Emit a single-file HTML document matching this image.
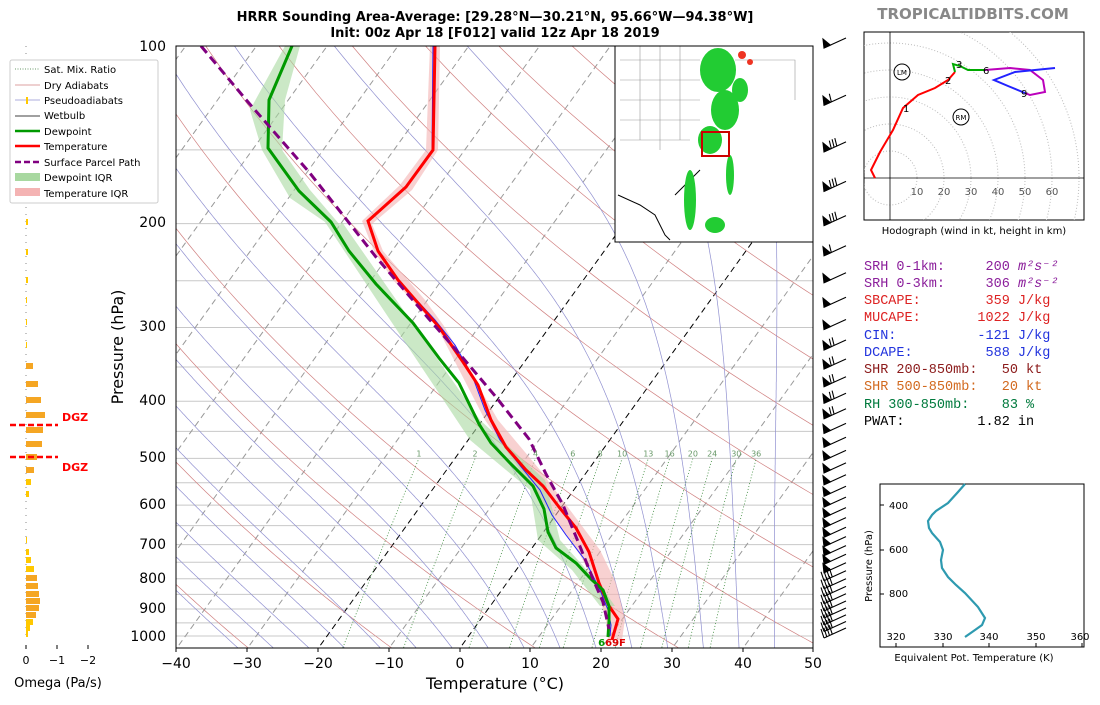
<!DOCTYPE html>
<html><head><meta charset="utf-8"><style>
body{margin:0;background:#fff;width:1100px;height:700px;overflow:hidden}
.mono text{font-family:"Liberation Mono","DejaVu Sans Mono",monospace}
</style></head><body>
<svg id="s" width="1100" height="700" viewBox="0 0 1100 700" xmlns="http://www.w3.org/2000/svg" font-family="DejaVu Sans, Liberation Sans, sans-serif">
<defs><clipPath id="c"><rect x="176" y="46" width="637" height="602"/></clipPath>
<clipPath id="ch"><rect x="864" y="32" width="220" height="188"/></clipPath></defs>
<g id="grid" clip-path="url(#c)"></g>
<g id="prof" clip-path="url(#c)">
<polygon fill="#f4b3b3" opacity="0.6" points="430,46 440,46 438,150 412,190 372,224 383,251 425,300 444,326 498,420 540,470 600,550 616,583 625,619 622,640 608,640 606,620 596,585 580,555 520,470 485,420 437,327 393,280 374,251 362,221 400,185 426,150"/>
<polygon fill="#a8d8a0" opacity="0.6" points="285,46 300,46 285,100 282,150 310,190 340,225 342,222 480,420 545,480 560,540 600,585 615,606 600,606 572,570 538,540 530,490 470,440 325,222 290,198 262,150 250,110"/>
<polyline fill="none" stroke="#2020ff" stroke-width="1" points="433,46 432,150 405,188 368,222 378,251 398,280 435,320 455,345 472,375 485,410 500,440 522,468 540,490 552,515 566,535 585,560 600,590 608,610 611,625 610,636"/>
<polyline fill="none" stroke="#ff0000" stroke-width="3" points="435,46 433,150 406,187 368,221 378,251 398,280 439,327 463,362 478,385 491,420 506,447 526,470 543,486 559,507 576,528 589,552 599,583 609,606 618,619 614,633 612,640"/>
<polyline fill="none" stroke="#009900" stroke-width="3" points="292,46 269,100 268,148 299,191 331,222 349,251 376,284 413,323 439,358 459,383 479,424 491,443 509,462 533,486 544,509 548,532 556,548 576,563 591,579 603,590 609,606 609,621 608,637"/>
<polyline fill="none" stroke="#800080" stroke-width="3" stroke-dasharray="9,5" points="201,46 248,102 309,172 376,257 429,319 463,358 496,397 529,439 546,474 563,505 579,544 593,579 603,602 609,629"/>
</g>
<rect x="615" y="46" width="198" height="196" fill="#fff" stroke="#000"/>
<g stroke="#999" stroke-width="0.6" fill="none">
<path d="M620,60 L700,60 M620,80 L700,80 M620,100 L700,100 M620,120 L700,120 M640,46 L640,140 M660,46 L660,150 M680,46 L680,140 M735,60 L795,60 L795,100 M620,140 L690,140"/>
</g>
<path d="M618,195 L640,205 L655,215 L665,235 L670,240 M700,170 L690,180 L675,195" stroke="#000" fill="none" stroke-width="1"/>
<g fill="#22cc33">
<ellipse cx="718" cy="70" rx="18" ry="22"/><ellipse cx="725" cy="110" rx="14" ry="20"/><ellipse cx="710" cy="140" rx="12" ry="14"/>
<ellipse cx="690" cy="200" rx="6" ry="30"/><ellipse cx="740" cy="90" rx="8" ry="12"/><ellipse cx="715" cy="225" rx="10" ry="8"/>
<ellipse cx="730" cy="175" rx="4" ry="20"/></g>
<g fill="#ee3322"><circle cx="742" cy="55" r="4"/><circle cx="750" cy="62" r="3"/></g>
<rect x="702" y="132" width="27" height="24" fill="none" stroke="#cc0000" stroke-width="2"/>
<rect x="176" y="46" width="637" height="602" fill="none" stroke="#000"/>
<text x="612" y="646" font-size="10" font-weight="bold" fill="#dd0000" text-anchor="middle"><tspan fill="#009900">6</tspan>69F</text>
<g id="mr" font-size="8" fill="#6a9a6a" text-anchor="middle"></g>
<g font-size="14" text-anchor="end" fill="#000">
<text x="166" y="51">100</text><text x="166" y="227">200</text><text x="166" y="331">300</text><text x="166" y="405">400</text><text x="166" y="462">500</text><text x="166" y="509">600</text><text x="166" y="549">700</text><text x="166" y="583">800</text><text x="166" y="613">900</text><text x="166" y="641">1000</text>
</g>
<g font-size="14" text-anchor="middle"><text x="176" y="668">−40</text><text x="247" y="668">−30</text><text x="318" y="668">−20</text><text x="389" y="668">−10</text><text x="460" y="668">0</text><text x="530" y="668">10</text><text x="601" y="668">20</text><text x="672" y="668">30</text><text x="743" y="668">40</text><text x="813" y="668">50</text></g>
<g stroke="#000"><path d="M176,648v4M247,648v4M318,648v4M389,648v4M460,648v4M530,648v4M601,648v4M672,648v4M743,648v4M813,648v4"/></g>
<text x="495" y="689" font-size="16" text-anchor="middle">Temperature (°C)</text>
<text transform="translate(123,347) rotate(-90)" font-size="16" text-anchor="middle">Pressure (hPa)</text>
<text x="495" y="21" font-size="13" font-weight="bold" text-anchor="middle">HRRR Sounding Area-Average: [29.28°N—30.21°N, 95.66°W—94.38°W]</text>
<text x="495" y="37" font-size="13" font-weight="bold" text-anchor="middle">Init: 00z Apr 18 [F012] valid 12z Apr 18 2019</text>
<text x="973" y="19" font-size="15" font-weight="bold" fill="#888" text-anchor="middle">TROPICALTIDBITS.COM</text>
<g id="barbs" stroke="#000" fill="#000" stroke-width="1.1"></g>
<line x1="26" y1="46" x2="26" y2="640" stroke="#888" stroke-dasharray="1,6"/>
<g id="om"></g>
<line x1="10" y1="425" x2="58" y2="425" stroke="#f00" stroke-width="2.5" stroke-dasharray="6,3"/>
<line x1="10" y1="457" x2="58" y2="457" stroke="#f00" stroke-width="2.5" stroke-dasharray="6,3"/>
<text x="62" y="421" font-size="11" font-weight="bold" fill="#f00">DGZ</text>
<text x="62" y="471" font-size="11" font-weight="bold" fill="#f00">DGZ</text>
<g stroke="#000"><path d="M26,645v4M57,645v4M88,645v4"/></g>
<g font-size="11" text-anchor="middle"><text x="26" y="664">0</text><text x="57" y="664">−1</text><text x="88" y="664">−2</text></g>
<text x="58" y="687" font-size="13" text-anchor="middle">Omega (Pa/s)</text>
<rect x="10" y="60" width="148" height="143" fill="#fff" stroke="#ccc" rx="2"/>
<g font-size="10">
<line x1="15" y1="69" x2="40" y2="69" stroke="#6a9a6a" stroke-dasharray="1,1.5"/><text x="44" y="73">Sat. Mix. Ratio</text>
<line x1="15" y1="85" x2="40" y2="85" stroke="#d08080" stroke-width="0.7"/><text x="44" y="89">Dry Adiabats</text>
<line x1="15" y1="100" x2="40" y2="100" stroke="#9090d0" stroke-width="0.7"/><rect x="26" y="97" width="2" height="7" fill="#ffc800"/><text x="44" y="104">Pseudoadiabats</text>
<line x1="15" y1="116" x2="40" y2="116" stroke="#000" stroke-width="0.8"/><text x="44" y="119">Wetbulb</text>
<line x1="15" y1="131" x2="40" y2="131" stroke="#009900" stroke-width="2.5"/><text x="44" y="135">Dewpoint</text>
<line x1="15" y1="146" x2="40" y2="146" stroke="#ff0000" stroke-width="2.5"/><text x="44" y="150">Temperature</text>
<line x1="15" y1="162" x2="40" y2="162" stroke="#800080" stroke-width="2.5" stroke-dasharray="6,3"/><text x="44" y="166">Surface Parcel Path</text>
<rect x="15" y="173" width="25" height="8" fill="#a8d8a0"/><text x="44" y="181">Dewpoint IQR</text>
<rect x="15" y="188" width="25" height="8" fill="#f4b3b3"/><text x="44" y="197">Temperature IQR</text>
</g>
<rect x="864" y="32" width="220" height="188" fill="#fff" stroke="#000"/>
<g clip-path="url(#ch)" fill="none" stroke="#bbb" stroke-dasharray="1,2">
<circle cx="890" cy="178" r="27"/><circle cx="890" cy="178" r="54"/><circle cx="890" cy="178" r="81"/><circle cx="890" cy="178" r="108"/><circle cx="890" cy="178" r="135"/><circle cx="890" cy="178" r="162"/><circle cx="890" cy="178" r="189"/>
</g>
<line x1="864" y1="178" x2="1084" y2="178" stroke="#000" stroke-width="0.8"/>
<line x1="890" y1="32" x2="890" y2="220" stroke="#000" stroke-width="0.8"/>
<g font-size="10" fill="#555" text-anchor="middle"><text x="917" y="195">10</text><text x="944" y="195">20</text><text x="971" y="195">30</text><text x="998" y="195">40</text><text x="1025" y="195">50</text><text x="1052" y="195">60</text></g>
<polyline fill="none" stroke="#f00" stroke-width="2" points="875,178 871,170 880,152 893,130 903,108 918,95 935,88 948,80 955,72"/>
<polyline fill="none" stroke="#0a0" stroke-width="2" points="955,72 953,64 960,66 968,70 985,70"/>
<polyline fill="none" stroke="#b0b" stroke-width="2" points="985,70 1010,68 1030,70 1043,80 1045,92 1030,95 1025,93"/>
<polyline fill="none" stroke="#22f" stroke-width="2" points="1025,93 1008,86 994,80 1015,72 1055,68"/>
<g font-size="10" fill="#000"><text x="903" y="112">1</text><text x="945" y="84">2</text><text x="956" y="68">3</text><text x="983" y="74">6</text><text x="1021" y="97">9</text></g>
<circle cx="902" cy="72" r="8" fill="none" stroke="#000"/><text x="902" y="75" font-size="7" text-anchor="middle">LM</text>
<circle cx="961" cy="117" r="8" fill="none" stroke="#000"/><text x="961" y="120" font-size="7" text-anchor="middle">RM</text>
<text x="974" y="234" font-size="10" text-anchor="middle">Hodograph (wind in kt, height in km)</text>
<g class="mono" font-size="13.5">
<text x="864" y="270" fill="#8b1e9b" xml:space="preserve">SRH 0-1km:     200 <tspan font-style="italic">m²s⁻²</tspan></text>
<text x="864" y="287" fill="#8b1e9b" xml:space="preserve">SRH 0-3km:     306 <tspan font-style="italic">m²s⁻²</tspan></text>
<text x="864" y="304" fill="#dd2222" xml:space="preserve">SBCAPE:        359 J/kg</text>
<text x="864" y="321" fill="#dd2222" xml:space="preserve">MUCAPE:       1022 J/kg</text>
<text x="864" y="339" fill="#2233dd" xml:space="preserve">CIN:          -121 J/kg</text>
<text x="864" y="356" fill="#2233dd" xml:space="preserve">DCAPE:         588 J/kg</text>
<text x="864" y="373" fill="#8b1a1a" xml:space="preserve">SHR 200-850mb:   50 kt</text>
<text x="864" y="390" fill="#d2691e" xml:space="preserve">SHR 500-850mb:   20 kt</text>
<text x="864" y="408" fill="#007a3d" xml:space="preserve">RH 300-850mb:    83 %</text>
<text x="864" y="425" fill="#000" xml:space="preserve">PWAT:         1.82 in</text>
</g>
<rect x="880" y="484" width="204" height="163" fill="#fff" stroke="#000"/>
<g font-size="10" text-anchor="start"><text x="889" y="509">400</text><text x="889" y="553">600</text><text x="889" y="597">800</text></g>
<g stroke="#000"><path d="M880,505h4M880,550h4M880,594h4M896,647v-4M943,647v-4M989,647v-4M1036,647v-4M1082,647v-4"/></g>
<g font-size="10" text-anchor="middle"><text x="896" y="640">320</text><text x="943" y="640">330</text><text x="989" y="640">340</text><text x="1036" y="640">350</text><text x="1080" y="640">360</text></g>
<text x="974" y="661" font-size="10" text-anchor="middle">Equivalent Pot. Temperature (K)</text>
<text transform="translate(872,566) rotate(-90)" font-size="10" text-anchor="middle">Pressure (hPa)</text>
<polyline fill="none" stroke="#2e9ab0" stroke-width="2.2" points="965,484 958,492 948,503 936,511 932,515 928,521 929,528 932,533 940,542 943,550 941,560 942,568 948,577 956,585 965,593 978,607 985,618 982,625 975,630 965,637"/>
</svg>
<script>
(function(){
var NS="http://www.w3.org/2000/svg";
function Y(p){return 46+590*Math.log10(p/100);}
function X(T,p){return 460+7.078*T+0.72*(648-Y(p));}
function line(g,pts,attrs){var e=document.createElementNS(NS,"polyline");e.setAttribute("points",pts.map(function(a){return a[0].toFixed(1)+","+a[1].toFixed(1)}).join(" "));e.setAttribute("fill","none");for(var k in attrs)e.setAttribute(k,attrs[k]);g.appendChild(e);}
var g=document.getElementById("grid");
for(var p=100;p<=1050;p+=50){line(g,[[176,Y(p)],[813,Y(p)]],{stroke:"#c8c8c8","stroke-width":1});}
for(var T=-120;T<=50;T+=10){line(g,[[X(T,1070),Y(1070)],[X(T,90),Y(90)]],{stroke:(T==0||T==-20)?"#000":"#999","stroke-width":1,"stroke-dasharray":"6,4"});}
for(var th=240;th<=500;th+=20){var a=[];for(var p=90;p<=1080;p+=10){a.push([X(th*Math.pow(p/1000,0.286)-273.15,p),Y(p)]);}line(g,a,{stroke:"#d08080","stroke-width":0.7});}
function es(T){return 6.112*Math.exp(17.67*T/(T+243.5));}
for(var T0=-30;T0<=45;T0+=5){var Tk=T0+273.15,a=[[X(T0,1070),Y(1070)]];
 for(var p=1070;p>=100;p-=2){var e=es(Tk-273.15),rs=0.622*e/(p-e);var dT=(287*Tk+2.5e6*rs)/(p*(1004+2.5e6*2.5e6*rs*0.622/(287*Tk*Tk)));Tk-=dT*2;a.push([X(Tk-273.15,p-2),Y(p-2)]);}
 line(g,a,{stroke:"#9090d0","stroke-width":0.7});}
var mr=[1,2,4,6,8,10,13,16,20,24,30,36],mg=document.getElementById("mr");
mr.forEach(function(w){var a=[];for(var p=1070;p>=500;p-=10){var e=w*p/(622+w),l=Math.log(e/6.112),Td=243.5*l/(17.67-l);a.push([X(Td,p),Y(p)]);}
 line(g,a,{stroke:"#3a8a3a","stroke-width":0.8,"stroke-dasharray":"1,2"});
 var t=document.createElementNS(NS,"text");var l=Math.log((w*500/(622+w))/6.112);t.setAttribute("x",X(243.5*l/(17.67-l),500).toFixed(1));t.setAttribute("y",Y(500)-2);t.textContent=w;mg.appendChild(t);});
var om=document.getElementById("om"),bars=[[222,2,"#ffc800"],[252,2,"#ffc800"],[280,2,"#ffc800"],[300,1,"#ffc800"],[322,1,"#ffc800"],[345,1,"#ffc800"],[366,7,"#f5a623"],[384,12,"#f5a623"],[400,15,"#f5a623"],[415,19,"#f5a623"],[430,17,"#f5a623"],[444,16,"#f5a623"],[457,11,"#f5a623"],[470,8,"#f5a623"],[482,5,"#ffc800"],[494,3,"#ffc800"],[540,1,"#ffc800"],[552,3,"#ffc800"],[560,5,"#ffc800"],[569,8,"#ffc800"],[578,11,"#f5a623"],[586,12,"#f5a623"],[594,13,"#f5a623"],[601,14,"#f5a623"],[608,13,"#f5a623"],[615,10,"#f5a623"],[622,7,"#ffc800"],[628,4,"#ffc800"],[634,2,"#ffc800"]];
bars.forEach(function(b){var r=document.createElementNS(NS,"rect");r.setAttribute("x",26);r.setAttribute("y",b[0]-3);r.setAttribute("width",b[1]);r.setAttribute("height",6);r.setAttribute("fill",b[2]);om.appendChild(r);});
var bg=document.getElementById("barbs");
function P(d,f){var e=document.createElementNS(NS,"path");e.setAttribute("d",d);if(!f)e.setAttribute("fill","none");bg.appendChild(e);}
function f(v){return v.toFixed(1);}
for(var p=100;p<=1000;p+=25){var y=Y(p);
 var x0=824,y0=y+2,x1=846,y1=y-8;
 P("M"+x0+","+f(y0)+" L"+x1+","+f(y1));
 var ux=(x1-x0)/24,uy=(y1-y0)/24;
 if(p<=780){
  P("M"+x0+","+f(y0)+" L"+f(x0+ux*7)+","+f(y0+uy*7)+" L"+(x0-1)+","+f(y0-9)+" Z",true);
  var nb=(p>=125&&p<=225)?(p==150||p==175||p==200?3:1):((p>=325&&p<=425)?2:0);
  for(var i=0;i!=nb;i++){var bx=x0+ux*(8+i*3),by=y0+uy*(8+i*3);P("M"+f(bx)+","+f(by)+" L"+f(bx-2)+","+f(by-8));}
 } else {
  for(var i=0;i!=4;i++){var bx=x0+ux*(i*3),by=y0+uy*(i*3);P("M"+f(bx)+","+f(by)+" L"+f(bx-3)+","+f(by-9));}
 }}
})();
</script>
</body></html>
